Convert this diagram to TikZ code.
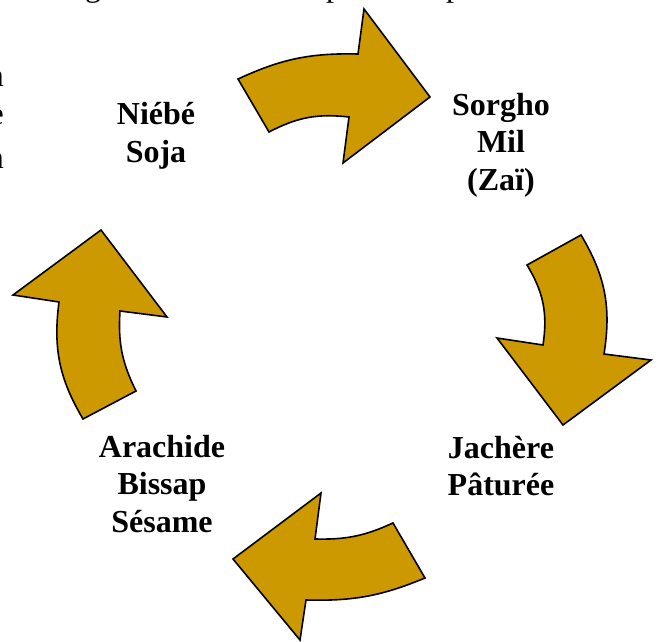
\documentclass[tikz,border=0pt]{standalone}
\usepackage{fontspec}
\setmainfont{Liberation Serif}
\definecolor{gold}{RGB}{204,153,0}

\begin{document}
\begin{tikzpicture}[x=1pt,y=1pt,
    arrowshape/.style={fill=gold,draw=black,line width=1.6pt,line join=miter},
    cropname/.style={font=\fontsize{32}{37.5}\selectfont\bfseries,align=center},
    cut/.style={font=\fontsize{32}{37.5}\selectfont,inner sep=0pt}]
      \useasboundingbox (0,0) rectangle (659,641);
      \clip (0,0) rectangle (659,641);

      % bits of the text around the picture
      \node[cut,anchor=base] (g1) at (93,644) {g};
      \node[cut,anchor=base west] (p1) at (326,644) {p};
      \node[cut,anchor=base west] (p2) at (446,644) {p};
      \node[cut,anchor=base east] (n1) at (4,554) {n};
      \node[cut,anchor=base east] (e1) at (4,516) {e};
      \node[cut,anchor=base east] (n2) at (4,472) {n};

      % crops
      \node[cropname] (niebe) at (156,505) {Niébé\\Soja};
      \node[cropname] (sorgho) at (501,496) {Sorgho\\Mil\\(Zaï)};
      \node[cropname] (jachere) at (501,175) {Jachère\\Pâturée};
      \node[cropname] (arachide) at (162,157) {Arachide\\Bissap\\Sésame};

      % arrows
      \path[arrowshape] (238,562) to[bend left=13] (358,587) -- (364,632)
        -- (430,544) -- (343,478) -- (349,524) to[bend right=17] (269,509) -- cycle;
      \path[arrowshape] (581,406) -- (527,376) to[bend left=20] (543,296)
        -- (497,303) -- (563,216) -- (651,281) -- (604,287) to[bend right=20] cycle;
      \path[arrowshape] (393,118) -- (425,63) to[bend left=12] (306,41)
        -- (300,1) -- (233,82) -- (321,148) -- (315,102) to[bend right=13] cycle;
      \path[arrowshape] (83,222) -- (136,250) to[bend left=15] (120,330)
        -- (167,324) -- (101,411) -- (13,346) -- (59,339) to[bend right=19] cycle;
    \end{tikzpicture}
\end{document}
